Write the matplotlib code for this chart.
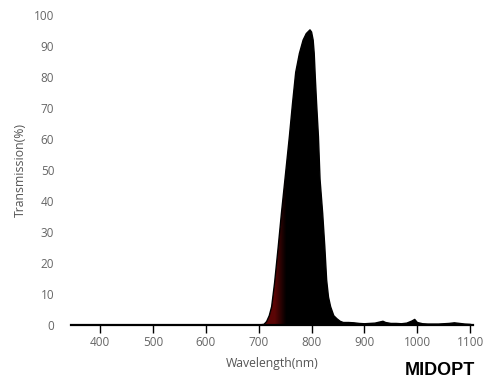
import numpy as np
import matplotlib
matplotlib.use("Agg")
import matplotlib.pyplot as plt

# Datos
wavelength = [345, 700, 710, 715, 720, 724.5, 730, 737, 743, 750, 758, 764,
              770, 777, 784, 790, 797, 800, 803, 805, 807, 809.5, 813, 816,
              821, 825, 828.5, 832, 836, 842, 848, 854, 860, 870, 880, 890,
              900, 910, 920, 930, 935, 940, 950, 960, 970, 980, 990, 995,
              1000, 1010, 1020, 1040, 1060, 1070, 1080, 1090, 1100, 1105]
transmission = [0, 0, 0.2, 1.1, 3, 5.9, 13.5, 25.3, 36, 47.5, 60.7, 71.5,
                81.5, 87.6, 91.9, 94, 95.2, 94.5, 91.9, 87.6, 80, 71.5, 60.7, 47,
                36, 25.3, 14.5, 9, 5.9, 3, 2, 1.2, 0.8, 0.8, 0.7, 0.5,
                0.4, 0.5, 0.6, 1.0, 1.2, 0.8, 0.5, 0.5, 0.4, 0.6, 1.3, 1.8,
                0.8, 0.4, 0.3, 0.3, 0.5, 0.7, 0.5, 0.3, 0.2, 0]
xticks = [400, 500, 600, 700, 800, 900, 1000, 1100]
yticks = [0, 10, 20, 30, 40, 50, 60, 70, 80, 90, 100]

GRIS = "#666666"
plt.rcParams["font.family"] = ["Open Sans", "DejaVu Sans"]

fig = plt.figure(figsize=(5, 3.88), dpi=100)
ax = fig.add_axes([0.1418, 0.1624, 0.804, 0.799])

# Relleno con degradado rojo oscuro -> negro
poly = ax.fill_between(wavelength, transmission, 0, color="none")
wl = np.linspace(345, 1105, 800)
r = np.clip((752 - wl) / (752 - 730), 0, 1) * 0.36
r[wl < 712] = 0
img = np.zeros((2, len(wl), 3))
img[:, :, 0] = r
img[:, :, 1] = r * 0.06
img[:, :, 2] = r * 0.06
im = ax.imshow(img, extent=[345, 1105, 0, 100], aspect="auto", origin="lower", zorder=1)
im.set_clip_path(poly.get_paths()[0], transform=ax.transData)
ax.plot(wavelength, transmission, color="black", lw=1.0, zorder=2)

ax.set_xlim(345, 1105)
ax.set_ylim(0, 100)
ax.set_xticks(xticks)
ax.set_yticks(yticks)
for s in ["top", "right", "left"]:
    ax.spines[s].set_visible(False)
ax.spines["bottom"].set_linewidth(1.6)
ax.tick_params(axis="x", direction="out", length=6, width=1, color="black",
               labelsize=8.5, labelcolor=GRIS, pad=2)
ax.tick_params(axis="y", length=0, labelsize=8.5, labelcolor=GRIS, pad=12)
ax.set_xlabel("Wavelength(nm)", fontsize=8.8, color="#555555", labelpad=6)
ax.set_ylabel("Transmission(%)", fontsize=8.8, color="#555555", labelpad=5)

fig.text(0.88, 0.044, "MIDOPT", fontsize=13, fontweight="bold", color="black",
         ha="center", va="center", family="Liberation Sans")

plt.savefig("out.png", dpi=100)
